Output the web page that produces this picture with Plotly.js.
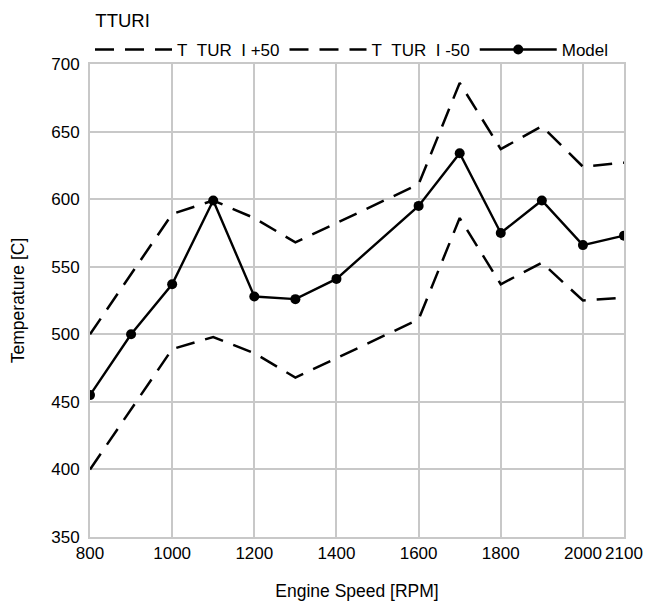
<!DOCTYPE html>
<html>
<head>
<meta charset="utf-8">
<script src="https://cdn.plot.ly/plotly-3.0.1.min.js"></script>
<style>
  html, body { margin: 0; padding: 0; background: #fff; }
  #chart { width: 650px; height: 608px; }
</style>
</head>
<body>
<div id="chart"></div>
<script>
// Turbine inlet temperature (TTURI) vs engine speed
const speedBand = [800, 1000, 1100, 1200, 1300, 1600, 1700, 1800, 1900, 2000, 2100];
const upperBand = [500, 589, 599, 586, 568, 611, 686, 637, 654, 624, 627];
const lowerBand = [400, 489, 498, 486, 468, 511, 586, 537, 553, 525, 527];

const speedModel = [800, 900, 1000, 1100, 1200, 1300, 1400, 1600, 1700, 1800, 1900, 2000, 2100];
const modelTemp  = [455, 500, 537, 599, 528, 526, 541, 595, 634, 575, 599, 566, 573];

const xTicks = [800, 1000, 1200, 1400, 1600, 1800, 2000, 2100];
const yTicks = [350, 400, 450, 500, 550, 600, 650, 700];

const NB = '\u00a0';
const labelPlus  = 'T' + NB + NB + 'TUR' + NB + NB + 'I +50';
const labelMinus = 'T' + NB + NB + 'TUR' + NB + NB + 'I -50';

const FONT = 'Liberation Sans, Arial, sans-serif';
const dashStyle = '19px,11px';

const traces = [
  {
    x: speedBand, y: upperBand, name: labelPlus, type: 'scatter', mode: 'lines',
    line: { color: '#000', width: 2.5, dash: dashStyle }
  },
  {
    x: speedBand, y: lowerBand, name: labelMinus, type: 'scatter', mode: 'lines',
    line: { color: '#000', width: 2.5, dash: dashStyle }
  },
  {
    x: speedModel, y: modelTemp, name: 'Model', type: 'scatter', mode: 'lines+markers',
    line: { color: '#000', width: 2.4 },
    marker: { color: '#000', size: 10, symbol: 'circle' }
  }
];

const layout = {
  width: 650, height: 608,
  paper_bgcolor: '#fff', plot_bgcolor: '#fff',
  margin: { l: 90, r: 26, t: 64, b: 71, autoexpand: false },
  font: { family: FONT, color: '#000', size: 17 },
  title: {
    text: 'TTURI', font: { family: FONT, size: 18.5, color: '#000' },
    xref: 'paper', x: 0.01, xanchor: 'left',
    yref: 'container', y: 0.967, yanchor: 'middle'
  },
  showlegend: true,
  legend: {
    orientation: 'h', xref: 'container', x: 90 / 650, xanchor: 'left',
    yref: 'container', y: 1 - 50 / 608, yanchor: 'middle',
    font: { family: FONT, size: 17, color: '#000' },
    itemwidth: 77, bgcolor: 'rgba(0,0,0,0)', tracegroupgap: 0
  },
  xaxis: {
    range: [800, 2100], tickvals: xTicks, ticktext: xTicks.map(String),
    showgrid: true, gridcolor: '#c8c8c8', gridwidth: 2,
    zeroline: false, showline: true, linecolor: '#c8c8c8', linewidth: 2, mirror: true,
    ticks: '', tickfont: { family: FONT, size: 17, color: '#000' },
    title: { text: 'Engine Speed [RPM]', font: { family: FONT, size: 17.5, color: '#000' }, standoff: 22 }
  },
  yaxis: {
    range: [350, 700], tickvals: yTicks, ticktext: yTicks.map(String),
    showgrid: true, gridcolor: '#c8c8c8', gridwidth: 2,
    zeroline: false, showline: true, linecolor: '#c8c8c8', linewidth: 2, mirror: true,
    ticks: '', ticklabelstandoff: 5, tickfont: { family: FONT, size: 17, color: '#000' },
    title: { text: 'Temperature [C]', font: { family: FONT, size: 17.5, color: '#000' }, standoff: 22 }
  }
};

Plotly.newPlot('chart', traces, layout, { displayModeBar: false, responsive: false });
</script>
</body>
</html>
